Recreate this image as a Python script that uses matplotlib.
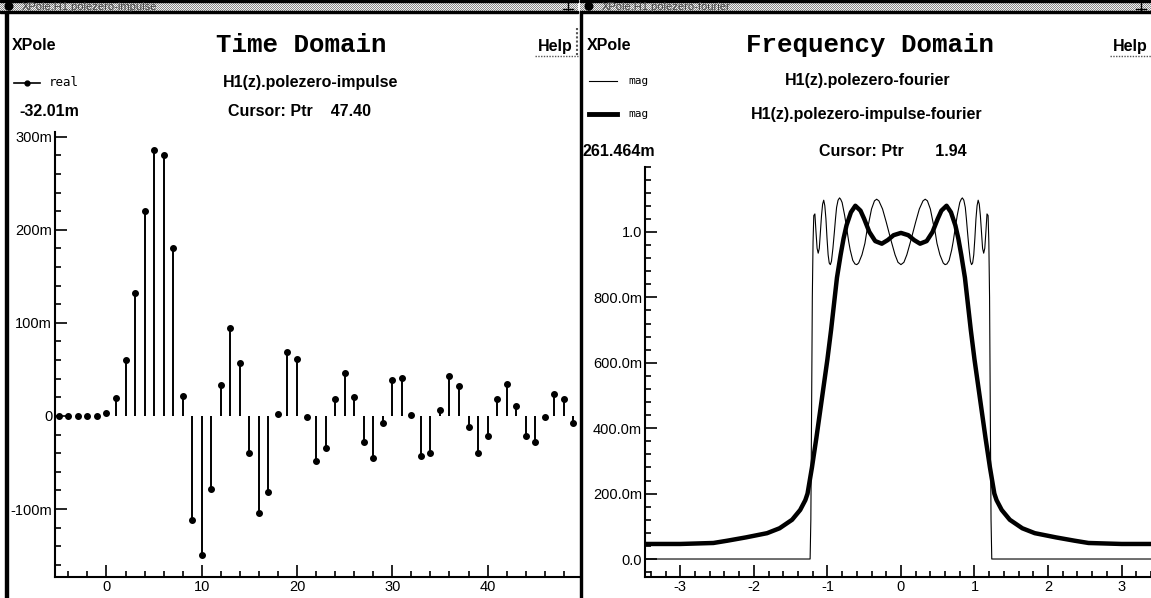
import numpy as np
import matplotlib
matplotlib.use('Agg')
import matplotlib.pyplot as plt
from matplotlib.patches import Rectangle, Circle
from matplotlib.ticker import MultipleLocator

W, H = 1151, 598

# ---- time domain: H1(z).polezero-impulse (real part) ----
n_idx = list(range(-5, 51))
h_real = [0.0, 0.0, 0.0, 0.0, 0.0,
          0.003, 0.019, 0.060, 0.132, 0.220, 0.286, 0.280, 0.180, 0.0215,
          -0.1115, -0.149, -0.0787, 0.033, 0.095, 0.057, -0.0395, -0.104,
          -0.0815, 0.002, 0.069, 0.061, -0.001, -0.048, -0.034, 0.018,
          0.046, 0.020, -0.028, -0.045, -0.008, 0.039, 0.041, 0.0005,
          -0.043, -0.040, 0.006, 0.043, 0.032, -0.012, -0.040, -0.0215,
          0.018, 0.034, 0.011, -0.0215, -0.028, -0.001, 0.024, 0.018,
          -0.008, -0.024]

# ---- frequency domain: magnitudes ----
w_thin = [-3.48, -1.235, -1.225, -1.215, -1.205, -1.195, -1.185, -1.17,
          -1.155, -1.14, -1.125, -1.11, -1.095, -1.08, -1.065, -1.05,
          -1.035, -1.02, -1.005, -0.99, -0.975, -0.96, -0.945, -0.925,
          -0.905, -0.89, -0.875, -0.855, -0.835, -0.82, -0.80, -0.765,
          -0.73, -0.71, -0.69, -0.655, -0.625, -0.60, -0.575, -0.53,
          -0.49, -0.465, -0.44, -0.40, -0.36, -0.33, -0.30, -0.25,
          -0.20, -0.165, -0.13, -0.08, -0.04, 0.0,
          0.04, 0.08, 0.13, 0.165, 0.20, 0.25, 0.30, 0.33, 0.36, 0.40,
          0.44, 0.465, 0.49, 0.53, 0.575, 0.60, 0.625, 0.655, 0.69, 0.71,
          0.73, 0.765, 0.80, 0.82, 0.835, 0.855, 0.875, 0.89, 0.905,
          0.925, 0.945, 0.96, 0.975, 0.99, 1.005, 1.02, 1.035, 1.05,
          1.065, 1.08, 1.095, 1.11, 1.125, 1.14, 1.155, 1.17, 1.185,
          1.195, 1.205, 1.215, 1.225, 1.235, 3.40]
mag_thin = [0.0, 0.0, 0.12, 0.45, 0.80, 0.97, 1.05, 1.055,
            1.00, 0.95, 0.935, 0.95, 1.00, 1.05, 1.085, 1.097,
            1.08, 1.04, 0.98, 0.93, 0.905, 0.90, 0.91, 0.95,
            1.00, 1.04, 1.075, 1.097, 1.104, 1.10, 1.09, 1.05,
            1.00, 0.97, 0.945, 0.913, 0.902, 0.90, 0.905, 0.93,
            0.965, 1.00, 1.025, 1.07, 1.095, 1.10, 1.095, 1.07,
            1.03, 1.00, 0.97, 0.93, 0.907, 0.90,
            0.907, 0.93, 0.97, 1.00, 1.03, 1.07, 1.095, 1.10, 1.095, 1.07,
            1.025, 1.00, 0.965, 0.93, 0.905, 0.90, 0.902, 0.913, 0.945, 0.97,
            1.00, 1.05, 1.09, 1.10, 1.104, 1.097, 1.075, 1.04, 1.00,
            0.95, 0.91, 0.90, 0.905, 0.93, 0.98, 1.04, 1.08, 1.097,
            1.085, 1.05, 1.00, 0.95, 0.935, 0.95, 1.00, 1.055, 1.05,
            0.97, 0.80, 0.45, 0.12, 0.0, 0.0]

w_thick = [-3.48, -3.0, -2.55, -2.36, -2.11, -1.82, -1.65, -1.48, -1.37,
           -1.30, -1.27, -1.21, -1.15, -1.10, -1.05, -1.00, -0.95, -0.91,
           -0.87, -0.82, -0.78, -0.74, -0.68, -0.62, -0.55, -0.50, -0.43,
           -0.35, -0.26, -0.18, -0.10, 0.0,
           0.10, 0.18, 0.26, 0.35, 0.43, 0.50, 0.55, 0.62, 0.68, 0.74,
           0.78, 0.82, 0.87, 0.91, 0.95, 1.00, 1.05, 1.10, 1.15, 1.21,
           1.27, 1.30, 1.37, 1.48, 1.65, 1.82, 2.11, 2.36, 2.55, 3.0, 3.40]
mag_thick = [0.046, 0.046, 0.049, 0.056, 0.066, 0.079, 0.094, 0.12, 0.15,
             0.18, 0.20, 0.28, 0.37, 0.45, 0.53, 0.61, 0.70, 0.78,
             0.86, 0.93, 0.98, 1.02, 1.06, 1.08, 1.065, 1.04, 1.00,
             0.972, 0.964, 0.975, 0.99, 0.997,
             0.99, 0.975, 0.964, 0.972, 1.00, 1.04, 1.065, 1.08, 1.06, 1.02,
             0.98, 0.93, 0.86, 0.78, 0.70, 0.61, 0.53, 0.45, 0.37, 0.28,
             0.20, 0.18, 0.15, 0.12, 0.094, 0.079, 0.066, 0.056, 0.049,
             0.046, 0.046]

left_xticks = [0, 10, 20, 30, 40]
left_yticks = [-0.1, 0.0, 0.1, 0.2, 0.3]
left_ylabels = ['-100m', '0', '100m', '200m', '300m']
right_xticks = [-3, -2, -1, 0, 1, 2, 3]
right_xlabels = ['-3', '-2', '-1', '0', '1', '2', '3']
right_yticks = [0.0, 0.2, 0.4, 0.6, 0.8, 1.0]
right_ylabels = ['0.0', '200.0m', '400.0m', '600.0m', '800.0m', '1.0']

SANS = ['Liberation Sans Narrow', 'Liberation Sans', 'DejaVu Sans']
MONO = ['Liberation Mono', 'DejaVu Sans Mono']


def frac(x0, y0, x1, y1):
    # pixel box (top-left origin) -> figure fraction rect
    return [x0 / W, 1 - y1 / H, (x1 - x0) / W, (y1 - y0) / H]


fig = plt.figure(figsize=(W / 100, H / 100), dpi=100)
fig.patch.set_facecolor('white')

bg = fig.add_axes([0, 0, 1, 1])
bg.axis('off')


def title_bar(x0, x1, name):
    nx, ny = x1 - x0, 9
    chk = np.indices((ny, nx)).sum(axis=0) % 2
    img = np.where(chk[..., None] == 1, 0.95, 0.55) * np.ones(3)
    bg.imshow(img, extent=(x0, x1, 11, 2), interpolation='nearest',
              aspect='auto', zorder=1)
    bg.add_patch(Rectangle((x0, 0), x1 - x0, 2, color='black', zorder=2))
    bg.add_patch(Rectangle((x0, 11), x1 - x0, 1.5, color='black', zorder=2))
    bg.add_patch(Circle((x0 + 9, 6.3), 3.8, color='black', zorder=3))
    bg.text(x0 + 22, 6.8, name, fontsize=8, family=SANS, color='#404040',
            va='center', ha='left', zorder=3)
    bg.plot([x1 - 10, x1 - 10], [2, 10], color='black', lw=1, zorder=3)
    bg.plot([x1 - 15, x1 - 5], [9, 9], color='black', lw=1, zorder=3)


title_bar(0, 578, 'XPole:H1.polezero-impulse')
title_bar(580, W, 'XPole:H1.polezero-fourier')

# window borders
bg.add_patch(Rectangle((5.5, 12), 3, H - 12, color='black', zorder=2))
bg.add_patch(Rectangle((580.5, 12), 2, H - 12, color='black', zorder=2))
# dotted frames around the Help buttons
for xa, xb in [(535, 578), (1110, W)]:
    bg.plot([xa, xb], [56, 56], color='#555555', lw=1, ls=(0, (1, 1)), zorder=2)
bg.plot([577.5, 577.5], [28, 56], color='#555555', lw=1.5, ls=(0, (1, 1)), zorder=2)

# ---- header texts, left window ----
bg.text(12, 46, 'XPole', fontsize=11.5, family=SANS, weight='bold', va='center')
bg.text(301, 45, 'Time Domain', fontsize=18.5, family=MONO, weight='bold',
        va='center', ha='center')
bg.text(573, 46, 'Help', fontsize=11.5, family=SANS, weight='bold',
        va='center', ha='right')
bg.plot([14, 40], [83, 83], color='black', lw=1.2)
bg.plot([27], [83], 'o', color='black', ms=3.5)
bg.text(49, 83, 'real', fontsize=9, family='DejaVu Sans Mono', va='center')
bg.text(311, 83, 'H1(z).polezero-impulse', fontsize=11.5, family=SANS,
        weight='bold', va='center', ha='center')
bg.text(19, 111, '-32.01m', fontsize=11.5, family=SANS, weight='bold', va='center')
bg.text(228, 111, 'Cursor: Ptr    47.40', fontsize=11.5, family=SANS,
        weight='bold', va='center')

# ---- header texts, right window ----
bg.text(587, 46, 'XPole', fontsize=11.5, family=SANS, weight='bold', va='center')
bg.text(870, 45, 'Frequency Domain', fontsize=18.5, family=MONO, weight='bold',
        va='center', ha='center')
bg.text(1148, 46, 'Help', fontsize=11.5, family=SANS, weight='bold',
        va='center', ha='right')
bg.plot([589, 617], [81, 81], color='black', lw=0.8)
bg.text(628, 81, 'mag', fontsize=8, family='DejaVu Sans Mono', va='center')
bg.text(868, 81, 'H1(z).polezero-fourier', fontsize=11.5, family=SANS,
        weight='bold', va='center', ha='center')
bg.plot([589, 617], [114, 114], color='black', lw=3.5)
bg.text(628, 114, 'mag', fontsize=8, family='DejaVu Sans Mono', va='center')
bg.text(867, 114, 'H1(z).polezero-impulse-fourier', fontsize=11.5, family=SANS,
        weight='bold', va='center', ha='center')
bg.text(583, 151, '261.464m', fontsize=11.5, family=SANS, weight='bold', va='center')
bg.text(819, 151, 'Cursor: Ptr       1.94', fontsize=11.5, family=SANS,
        weight='bold', va='center')

bg.set_xlim(0, W)
bg.set_ylim(H, 0)


def style_axes(ax):
    ax.set_facecolor('none')
    for s in ['top', 'right']:
        ax.spines[s].set_visible(False)
    for s in ['left', 'bottom']:
        ax.spines[s].set_linewidth(1.5)
    ax.tick_params(which='major', direction='in', length=8.5, width=1.2,
                   labelsize=10.5, pad=2)
    ax.tick_params(which='minor', direction='in', length=4.5, width=1.2)
    for lab in ax.get_xticklabels() + ax.get_yticklabels():
        lab.set_family(['Liberation Sans', 'DejaVu Sans'])


# ---- time domain axes ----
ax1 = fig.add_axes(frac(55, 132, 580, 577))
ax1.vlines(n_idx, 0, h_real, color='black', lw=1.4)
ax1.plot(n_idx, h_real, 'o', color='black', ms=4, clip_on=True)
ax1.set_xlim(-5.4, 49.7)
ax1.set_ylim(-0.173, 0.305)
ax1.set_xticks(left_xticks)
ax1.set_yticks(left_yticks)
ax1.set_yticklabels(left_ylabels)
ax1.xaxis.set_minor_locator(MultipleLocator(2))
ax1.yaxis.set_minor_locator(MultipleLocator(0.02))
style_axes(ax1)

# ---- frequency domain axes ----
ax2 = fig.add_axes(frac(645, 166.5, W, 577))
ax2.plot(w_thin, mag_thin, color='black', lw=0.8)
ax2.plot(w_thick, mag_thick, color='black', lw=3.2, solid_joinstyle='round')
ax2.set_xlim(-3.48, 3.40)
ax2.set_ylim(-0.055, 1.2)
ax2.set_xticks(right_xticks)
ax2.set_xticklabels(right_xlabels)
ax2.set_yticks(right_yticks)
ax2.set_yticklabels(right_ylabels)
ax2.xaxis.set_minor_locator(MultipleLocator(0.2))
ax2.yaxis.set_minor_locator(MultipleLocator(0.04))
style_axes(ax2)

fig.savefig('out.png', dpi=100)
